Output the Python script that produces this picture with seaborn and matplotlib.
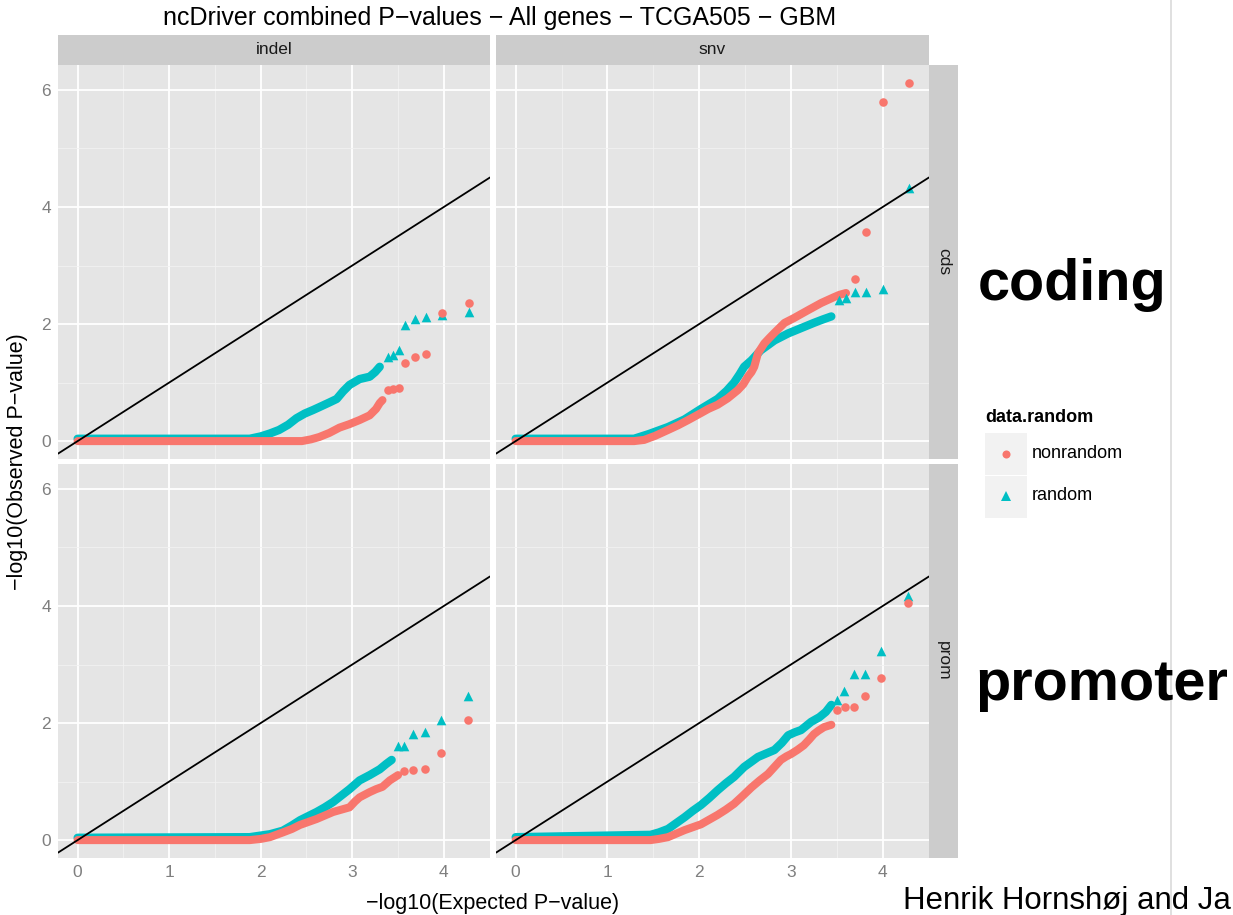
import numpy as np
import pandas as pd
import matplotlib
matplotlib.use("Agg")
import matplotlib.pyplot as plt
import seaborn as sns
from matplotlib.patches import Rectangle
from matplotlib.lines import Line2D
from matplotlib.ticker import MultipleLocator

# ---------------- data ----------------
col_labels = ["indel", "snv"]
row_labels = ["cds", "prom"]
groups = ["nonrandom", "random"]

# indel / cds
indel_cds_nonrandom_band_x = [0.0, 2.45, 2.55, 2.64, 2.75, 2.86, 2.97, 3.08, 3.19, 3.26, 3.30, 3.33]
indel_cds_nonrandom_band_y = [0.0, 0.0, 0.03, 0.07, 0.14, 0.23, 0.29, 0.36, 0.44, 0.55, 0.65, 0.70]
indel_cds_nonrandom_tail_x = [3.39, 3.44, 3.51, 3.58, 3.68, 3.80, 3.98, 4.28]
indel_cds_nonrandom_tail_y = [0.87, 0.89, 0.91, 1.33, 1.44, 1.49, 2.19, 2.36]
indel_cds_random_band_x = [0.0, 1.88, 2.0, 2.1, 2.2, 2.3, 2.39, 2.48, 2.57, 2.64, 2.75, 2.83, 2.9, 2.97, 3.08, 3.19, 3.25, 3.30]
indel_cds_random_band_y = [0.04, 0.04, 0.08, 0.13, 0.19, 0.28, 0.39, 0.47, 0.53, 0.58, 0.66, 0.72, 0.85, 0.96, 1.06, 1.10, 1.18, 1.27]
indel_cds_random_tail_x = [3.39, 3.44, 3.51, 3.58, 3.68, 3.80, 3.98, 4.28]
indel_cds_random_tail_y = [1.44, 1.47, 1.56, 1.98, 2.08, 2.12, 2.15, 2.20]

# snv / cds
snv_cds_nonrandom_band_x = [0.0, 1.29, 1.40, 1.52, 1.66, 1.77, 1.88, 2.02, 2.10, 2.20, 2.31, 2.42, 2.48, 2.53, 2.57, 2.60, 2.64, 2.71, 2.77, 2.82, 2.93, 3.03, 3.11, 3.19, 3.26, 3.33, 3.40, 3.47, 3.53, 3.60]
snv_cds_nonrandom_band_y = [0.0, 0.0, 0.02, 0.09, 0.19, 0.27, 0.36, 0.48, 0.55, 0.62, 0.73, 0.87, 0.97, 1.10, 1.18, 1.27, 1.50, 1.67, 1.77, 1.85, 2.02, 2.10, 2.17, 2.24, 2.30, 2.36, 2.41, 2.46, 2.50, 2.53]
snv_cds_nonrandom_tail_x = [3.70, 3.82, 4.00, 4.29]
snv_cds_nonrandom_tail_y = [2.77, 3.57, 5.80, 6.12]
snv_cds_random_band_x = [0.0, 1.29, 1.45, 1.66, 1.84, 2.02, 2.20, 2.30, 2.38, 2.44, 2.49, 2.57, 2.67, 2.75, 2.82, 2.97, 3.11, 3.25, 3.35, 3.44]
snv_cds_random_band_y = [0.04, 0.04, 0.12, 0.24, 0.37, 0.55, 0.72, 0.86, 1.00, 1.14, 1.27, 1.38, 1.55, 1.64, 1.72, 1.84, 1.93, 2.02, 2.08, 2.13]
snv_cds_random_tail_x = [3.52, 3.60, 3.70, 3.82, 4.00, 4.29]
snv_cds_random_tail_y = [2.41, 2.44, 2.55, 2.55, 2.60, 4.32]

# indel / prom
indel_prom_nonrandom_band_x = [0.0, 1.88, 2.0, 2.1, 2.24, 2.34, 2.43, 2.52, 2.61, 2.70, 2.79, 2.88, 2.97, 3.03, 3.08, 3.19, 3.26, 3.33, 3.41, 3.50]
indel_prom_nonrandom_band_y = [0.0, 0.0, 0.02, 0.05, 0.13, 0.19, 0.26, 0.31, 0.36, 0.42, 0.48, 0.52, 0.56, 0.66, 0.73, 0.82, 0.87, 0.91, 1.02, 1.11]
indel_prom_nonrandom_tail_x = [3.57, 3.66, 3.79, 3.97, 4.26]
indel_prom_nonrandom_tail_y = [1.18, 1.20, 1.21, 1.49, 2.05]
indel_prom_random_band_x = [0.0, 1.88, 2.1, 2.24, 2.34, 2.43, 2.52, 2.61, 2.70, 2.79, 2.88, 2.97, 3.08, 3.19, 3.30, 3.37, 3.43]
indel_prom_random_band_y = [0.04, 0.05, 0.10, 0.16, 0.25, 0.34, 0.41, 0.48, 0.56, 0.65, 0.76, 0.87, 1.02, 1.11, 1.21, 1.30, 1.37]
indel_prom_random_tail_x = [3.50, 3.57, 3.66, 3.79, 3.97, 4.26]
indel_prom_random_tail_y = [1.60, 1.60, 1.81, 1.85, 2.05, 2.46]

# snv / prom
snv_prom_nonrandom_band_x = [0.0, 1.47, 1.56, 1.66, 1.75, 1.84, 1.93, 2.02, 2.11, 2.20, 2.29, 2.38, 2.47, 2.57, 2.66, 2.75, 2.82, 2.89, 2.95, 3.00, 3.07, 3.14, 3.20, 3.25, 3.30, 3.36, 3.44]
snv_prom_nonrandom_band_y = [0.0, 0.0, 0.02, 0.05, 0.11, 0.17, 0.22, 0.27, 0.35, 0.43, 0.52, 0.62, 0.75, 0.90, 1.02, 1.13, 1.25, 1.37, 1.43, 1.47, 1.54, 1.62, 1.72, 1.81, 1.87, 1.93, 1.97]
snv_prom_nonrandom_tail_x = [3.50, 3.59, 3.69, 3.81, 3.98, 4.28]
snv_prom_nonrandom_tail_y = [2.22, 2.27, 2.27, 2.46, 2.77, 4.05]
snv_prom_random_band_x = [0.0, 1.47, 1.56, 1.66, 1.75, 1.84, 1.93, 2.02, 2.11, 2.20, 2.29, 2.38, 2.49, 2.57, 2.64, 2.73, 2.82, 2.90, 2.97, 3.04, 3.11, 3.22, 3.31, 3.38, 3.44]
snv_prom_random_band_y = [0.05, 0.09, 0.13, 0.19, 0.29, 0.39, 0.50, 0.60, 0.72, 0.85, 0.97, 1.08, 1.25, 1.34, 1.42, 1.48, 1.54, 1.66, 1.79, 1.84, 1.88, 2.02, 2.10, 2.19, 2.31]
snv_prom_random_tail_x = [3.50, 3.58, 3.69, 3.81, 3.98, 4.28]
snv_prom_random_tail_y = [2.39, 2.55, 2.84, 2.84, 3.23, 4.17]

x_ticks = [0, 1, 2, 3, 4]
y_ticks = [0, 2, 4, 6]

title = "ncDriver combined P\u2212values \u2212 All genes \u2212 TCGA505 \u2212 GBM"
xlabel = "\u2212log10(Expected P\u2212value)"
ylabel = "\u2212log10(Observed P\u2212value)"
legend_title = "data.random"
side_labels = ["coding", "promoter"]
credit = "Henrik Hornsh\u00f8j and Ja"

series = {
    ("indel", "cds"): (indel_cds_nonrandom_band_x, indel_cds_nonrandom_band_y, indel_cds_nonrandom_tail_x, indel_cds_nonrandom_tail_y,
                       indel_cds_random_band_x, indel_cds_random_band_y, indel_cds_random_tail_x, indel_cds_random_tail_y),
    ("snv", "cds"): (snv_cds_nonrandom_band_x, snv_cds_nonrandom_band_y, snv_cds_nonrandom_tail_x, snv_cds_nonrandom_tail_y,
                     snv_cds_random_band_x, snv_cds_random_band_y, snv_cds_random_tail_x, snv_cds_random_tail_y),
    ("indel", "prom"): (indel_prom_nonrandom_band_x, indel_prom_nonrandom_band_y, indel_prom_nonrandom_tail_x, indel_prom_nonrandom_tail_y,
                        indel_prom_random_band_x, indel_prom_random_band_y, indel_prom_random_tail_x, indel_prom_random_tail_y),
    ("snv", "prom"): (snv_prom_nonrandom_band_x, snv_prom_nonrandom_band_y, snv_prom_nonrandom_tail_x, snv_prom_nonrandom_tail_y,
                      snv_prom_random_band_x, snv_prom_random_band_y, snv_prom_random_tail_x, snv_prom_random_tail_y),
}

# ---------------- style ----------------
RED = "#F8766D"
TEAL = "#00BFC4"
PANEL = "#E5E5E5"
STRIP = "#CCCCCC"
TICKC = "#7F7F7F"

W, H = 1233, 915
sns.set_theme(style="darkgrid")
plt.rcParams['font.family'] = ['Liberation Sans', 'DejaVu Sans']

fig = plt.figure(figsize=(W / 100, H / 100), dpi=100)
fig.patch.set_facecolor("white")


def fx(px):
    return px / W


def fy(py):
    return 1 - py / H


def rect(x0, y0, x1, y1, color):
    fig.add_artist(Rectangle((fx(x0), fy(y1)), (x1 - x0) / W, (y1 - y0) / H,
                             transform=fig.transFigure, facecolor=color,
                             edgecolor="none", zorder=0))


col_px = [(58, 490), (496, 929)]
row_px = [(65, 459), (464, 858)]
XLIM = (-0.2145, 4.5045)
YLIM = (-0.306, 6.426)

circ_s = 38
tri_s = 48
band_lw = 6.0

for ci, cname in enumerate(col_labels):
    for ri, rname in enumerate(row_labels):
        x0, x1 = col_px[ci]
        y0, y1 = row_px[ri]
        ax = fig.add_axes([fx(x0), fy(y1), (x1 - x0) / W, (y1 - y0) / H])
        ax.set_facecolor(PANEL)
        for s in ax.spines.values():
            s.set_visible(False)
        nbx, nby, ntx, nty, rbx, rby, rtx, rty = series[(cname, rname)]

        # random (teal triangles)
        sns.lineplot(x=rbx, y=rby, ax=ax, color=TEAL, linewidth=band_lw, estimator=None,
                     sort=False, solid_capstyle="round", solid_joinstyle="round", legend=False)
        sns.scatterplot(x=rtx, y=rty, ax=ax, color=TEAL, marker="^", s=tri_s,
                        linewidth=0, legend=False, zorder=3)
        # nonrandom (red circles)
        sns.lineplot(x=nbx, y=nby, ax=ax, color=RED, linewidth=band_lw - 0.2, estimator=None,
                     sort=False, solid_capstyle="round", solid_joinstyle="round", legend=False)
        sns.scatterplot(x=ntx, y=nty, ax=ax, color=RED, marker="o", s=circ_s,
                        linewidth=0, legend=False, zorder=4)

        ax.axline((0, 0), slope=1, color="black", linewidth=1.3, zorder=5)

        ax.set_xlim(*XLIM)
        ax.set_ylim(*YLIM)
        ax.set_xticks(x_ticks)
        ax.set_yticks(y_ticks)
        ax.xaxis.set_minor_locator(MultipleLocator(0.5))
        ax.yaxis.set_minor_locator(MultipleLocator(1))
        ax.grid(which="major", color="white", linewidth=1.3)
        ax.grid(which="minor", color="#F2F2F2", linewidth=0.6)
        ax.set_axisbelow(True)
        ax.set_xlabel("")
        ax.set_ylabel("")
        ax.tick_params(which="minor", length=0)
        ax.tick_params(which="major", colors=TICKC, labelcolor=TICKC, labelsize=12.5,
                       length=3.2, width=0.9, pad=2)
        if ci != 0:
            ax.tick_params(axis="y", length=0, labelleft=False)
        if ri != len(row_labels) - 1:
            ax.tick_params(axis="x", length=0, labelbottom=False)
        ax.tick_params(axis="both", which="major", direction="out")

        # strips
        if ri == 0:
            rect(x0, 35, x1, 65, STRIP)
            fig.text(fx((x0 + x1) / 2), fy(50), cname, ha="center", va="center",
                     fontsize=12.5, color="#1A1A1A")
        if ci == len(col_labels) - 1:
            rect(929, y0, 958, y1, STRIP)
            fig.text(fx(943.5), fy((y0 + y1) / 2), rname, ha="center", va="center",
                     rotation=-90, fontsize=12.5, color="#1A1A1A")

# titles / labels
fig.text(fx(500), fy(18), title, ha="center", va="center", fontsize=18, color="black")
fig.text(fx(493), fy(903), xlabel, ha="center", va="center", fontsize=15.5, color="black")
fig.text(fx(18), fy(462), ylabel, ha="center", va="center", rotation=90, fontsize=15.5, color="black")

# legend (drawn manually to mimic ggplot)
fig.text(fx(985), fy(418), legend_title, ha="left", va="center", fontsize=13,
         fontweight="bold", color="black")
rect(985, 433, 1027, 475, "#F2F2F2")
rect(985, 476, 1027, 518, "#F2F2F2")
fig.add_artist(Line2D([fx(1006)], [fy(454)], marker="o", markersize=5.8, color=RED,
                      markeredgewidth=0, linestyle="none", transform=fig.transFigure))
fig.add_artist(Line2D([fx(1006)], [fy(496)], marker="^", markersize=6.6, color=TEAL,
                      markeredgewidth=0, linestyle="none", transform=fig.transFigure))
fig.text(fx(1032), fy(454), groups[0], ha="left", va="center", fontsize=13, color="black")
fig.text(fx(1032), fy(496), groups[1], ha="left", va="center", fontsize=13, color="black")

# annotations outside the chart
fig.text(fx(978), fy(300), side_labels[0], ha="left", va="baseline", fontsize=41.5,
         fontweight="bold", color="black")
fig.text(fx(975), fy(700), side_labels[1], ha="left", va="baseline", fontsize=41.5,
         fontweight="bold", color="black")
fig.add_artist(Line2D([fx(1171), fx(1171)], [0, 1], color="#DADADA", linewidth=1.2,
                      transform=fig.transFigure))
fig.text(fx(903), fy(909), credit, ha="left", va="baseline", fontsize=22.5, color="black")

fig.savefig("out.png", dpi=100, facecolor="white")
